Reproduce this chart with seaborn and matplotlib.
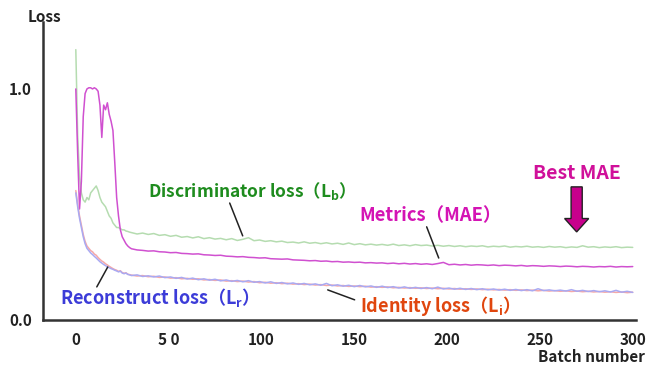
import numpy as np
import pandas as pd
import matplotlib
matplotlib.use('Agg')
import matplotlib.pyplot as plt
import seaborn as sns

# batch positions: every batch up to 29, then every 3rd batch
batch_head = list(range(0, 30))
batch_tail = list(range(30, 301, 3))
batches = batch_head + batch_tail

disc_loss = [
    1.17, 0.80, 0.62, 0.55, 0.52, 0.51, 0.53, 0.52, 0.55, 0.56,
    0.57, 0.58, 0.56, 0.53, 0.51, 0.50, 0.49, 0.47, 0.45, 0.44,
    0.42, 0.41, 0.40, 0.40, 0.395, 0.39, 0.39, 0.385, 0.383, 0.38,
    0.378, 0.372, 0.376, 0.370, 0.374, 0.366, 0.369, 0.362, 0.366, 0.358,
    0.361, 0.355, 0.360, 0.352, 0.356, 0.350, 0.353, 0.347, 0.352, 0.344,
    0.349, 0.356, 0.343, 0.346, 0.340, 0.343, 0.338, 0.341, 0.335, 0.337,
    0.333, 0.338, 0.332, 0.335, 0.330, 0.334, 0.329, 0.332, 0.327, 0.333,
    0.326, 0.330, 0.325, 0.328, 0.324, 0.327, 0.323, 0.328, 0.322, 0.325,
    0.321, 0.326, 0.322, 0.324, 0.320, 0.323, 0.319, 0.322, 0.318, 0.321,
    0.317, 0.320, 0.318, 0.321, 0.316, 0.319, 0.317, 0.320, 0.315, 0.318,
    0.316, 0.319, 0.315, 0.317, 0.314, 0.318, 0.315, 0.317, 0.313, 0.316,
    0.314, 0.321, 0.315, 0.317, 0.313, 0.316, 0.314, 0.317, 0.313, 0.315,
    0.314,
]

mae = [
    1.00, 0.72, 0.48, 0.60, 0.88, 0.98, 1.00, 1.005, 1.005, 1.00,
    1.005, 1.00, 0.99, 0.93, 0.79, 0.93, 0.91, 0.94, 0.89, 0.86,
    0.82, 0.68, 0.53, 0.45, 0.39, 0.36, 0.345, 0.33, 0.32, 0.313,
    0.308, 0.303, 0.301, 0.298, 0.299, 0.295, 0.294, 0.291, 0.292, 0.288,
    0.287, 0.285, 0.286, 0.282, 0.281, 0.279, 0.280, 0.276, 0.275, 0.273,
    0.274, 0.271, 0.270, 0.268, 0.269, 0.265, 0.264, 0.263, 0.264, 0.260,
    0.259, 0.258, 0.256, 0.257, 0.254, 0.255, 0.252, 0.253, 0.250, 0.251,
    0.249, 0.250, 0.247, 0.248, 0.246, 0.247, 0.244, 0.246, 0.243, 0.245,
    0.242, 0.244, 0.241, 0.243, 0.240, 0.244, 0.249, 0.239, 0.241, 0.238,
    0.240, 0.237, 0.239, 0.238, 0.236, 0.238, 0.235, 0.237, 0.236, 0.234,
    0.236, 0.233, 0.235, 0.234, 0.232, 0.234, 0.233, 0.231, 0.233, 0.232,
    0.230, 0.232, 0.231, 0.229, 0.231, 0.230, 0.232, 0.229, 0.231, 0.230,
    0.231,
]

identity_loss = [
    0.56, 0.50, 0.45, 0.41, 0.37, 0.34, 0.32, 0.31, 0.30, 0.295,
    0.285, 0.28, 0.27, 0.262, 0.255, 0.25, 0.243, 0.238, 0.232, 0.227,
    0.222, 0.218, 0.215, 0.21, 0.213, 0.205, 0.202, 0.204, 0.198, 0.196,
    0.194, 0.190, 0.192, 0.187, 0.189, 0.184, 0.186, 0.181, 0.183, 0.178,
    0.180, 0.176, 0.178, 0.173, 0.175, 0.171, 0.173, 0.168, 0.170, 0.166,
    0.168, 0.164, 0.166, 0.161, 0.163, 0.159, 0.161, 0.157, 0.159, 0.155,
    0.157, 0.153, 0.155, 0.151, 0.153, 0.149, 0.151, 0.147, 0.149, 0.145,
    0.147, 0.144, 0.146, 0.142, 0.144, 0.141, 0.143, 0.139, 0.141, 0.138,
    0.140, 0.137, 0.139, 0.136, 0.138, 0.135, 0.137, 0.134, 0.136, 0.133,
    0.135, 0.132, 0.134, 0.131, 0.133, 0.130, 0.132, 0.129, 0.131, 0.128,
    0.130, 0.127, 0.129, 0.126, 0.128, 0.125, 0.127, 0.124, 0.126, 0.123,
    0.125, 0.122, 0.124, 0.121, 0.123, 0.120, 0.122, 0.119, 0.121, 0.118,
    0.120,
]

recon_loss = [
    0.55, 0.49, 0.44, 0.40, 0.36, 0.33, 0.31, 0.30, 0.29, 0.283,
    0.275, 0.268, 0.26, 0.252, 0.246, 0.24, 0.235, 0.23, 0.226, 0.222,
    0.219, 0.215, 0.212, 0.208, 0.211, 0.203, 0.200, 0.203, 0.197, 0.195,
    0.192, 0.195, 0.188, 0.191, 0.186, 0.190, 0.183, 0.186, 0.180, 0.184,
    0.177, 0.181, 0.174, 0.178, 0.172, 0.176, 0.169, 0.173, 0.167, 0.171,
    0.165, 0.170, 0.163, 0.166, 0.160, 0.165, 0.158, 0.162, 0.156, 0.160,
    0.154, 0.158, 0.152, 0.156, 0.150, 0.158, 0.148, 0.152, 0.146, 0.150,
    0.144, 0.149, 0.143, 0.147, 0.141, 0.146, 0.140, 0.144, 0.138, 0.143,
    0.137, 0.141, 0.136, 0.140, 0.135, 0.142, 0.134, 0.138, 0.133, 0.137,
    0.132, 0.136, 0.131, 0.135, 0.130, 0.134, 0.129, 0.133, 0.128, 0.132,
    0.127, 0.131, 0.126, 0.135, 0.127, 0.130, 0.126, 0.129, 0.125, 0.131,
    0.124, 0.128, 0.123, 0.127, 0.122, 0.126, 0.121, 0.128, 0.120, 0.124,
    0.119,
]

x_ticks = [0, 50, 100, 150, 200, 250, 300]
x_tick_labels = ['0', '5 0', '100', '150', '200', '250', '300']
y_ticks = [0.0, 1.0]
y_tick_labels = ['0.0', '1.0']

sns.set_style('white')
plt.rcParams['font.family'] = ['Noto Sans CJK JP', 'DejaVu Sans']
plt.rcParams['mathtext.default'] = 'regular'

df = pd.concat([
    pd.DataFrame({'batch': batches, 'loss': disc_loss, 'series': 'disc'}),
    pd.DataFrame({'batch': batches, 'loss': mae, 'series': 'mae'}),
    pd.DataFrame({'batch': batches, 'loss': identity_loss, 'series': 'ident'}),
    pd.DataFrame({'batch': batches, 'loss': recon_loss, 'series': 'recon'}),
])
palette = {'disc': '#b5dcb0', 'mae': '#d050d0', 'ident': '#f5a8a8', 'recon': '#a9a9f2'}

fig = plt.figure(figsize=(6.48, 3.72), dpi=100)
ax = fig.add_axes([0.066, 0.140, 0.915, 0.801])
sns.lineplot(data=df, x='batch', y='loss', hue='series', palette=palette,
             linewidth=1.1, legend=False, ax=ax)

ax.set_xlim(-17.8, 301.6)
ax.set_ylim(0, 1.29)
sns.despine(ax=ax)
for s in ['left', 'bottom']:
    ax.spines[s].set_linewidth(1.8)
    ax.spines[s].set_color('#333333')
ax.set_xticks(x_ticks)
ax.set_xticklabels(x_tick_labels)
ax.set_yticks(y_ticks)
ax.set_yticklabels(y_tick_labels)
ax.tick_params(axis='both', direction='out', length=6, width=1.5, color='#333333',
               labelsize=11, labelcolor='#222222', pad=3)
ax.tick_params(axis='y', pad=2)
for lab in ax.get_xticklabels() + ax.get_yticklabels():
    lab.set_fontweight('bold')
ax.set_xlabel('')
ax.set_ylabel('')

fig.text(0.068, 0.955, 'Loss', ha='center', va='center', fontsize=11,
         fontweight='bold', color='#222222')
fig.text(0.995, 0.040, 'Batch number', ha='right', va='center', fontsize=11,
         fontweight='bold', color='#222222')

# annotations
ax.text(38.8, 0.558, 'Discriminator loss（L$_b$）', fontsize=12.5, fontweight='bold',
        color='#1e8c1e', va='center', ha='left')
ax.plot([82.9, 89.9], [0.506, 0.364], color='#222222', lw=1.1)

ax.text(152.9, 0.450, 'Metrics（MAE）', fontsize=13.3, fontweight='bold',
        color='#d414b4', va='center', ha='left')
ax.plot([189.0, 195.5], [0.403, 0.268], color='#222222', lw=1.1)

ax.text(-8.6, 0.095, 'Reconstruct loss（L$_r$）', fontsize=13, fontweight='bold',
        color='#3c3cd8', va='center', ha='left')
ax.plot([17.2, 11.3], [0.229, 0.143], color='#222222', lw=1.1)

ax.text(152.9, 0.061, 'Identity loss（L$_i$）', fontsize=13, fontweight='bold',
        color='#e0460e', va='center', ha='left')
ax.plot([135.7, 150.2], [0.130, 0.087], color='#222222', lw=1.1)

ax.text(269.8, 0.636, 'Best MAE', fontsize=14, fontweight='bold',
        color='#d0109a', va='center', ha='center')
ax.arrow(269.8, 0.576, 0, -0.195, width=6.0, head_width=13.0, head_length=0.058,
         length_includes_head=True, fc='#c8008c', ec='#222222', lw=1.0, zorder=5)

fig.savefig('out.png', dpi=100)
